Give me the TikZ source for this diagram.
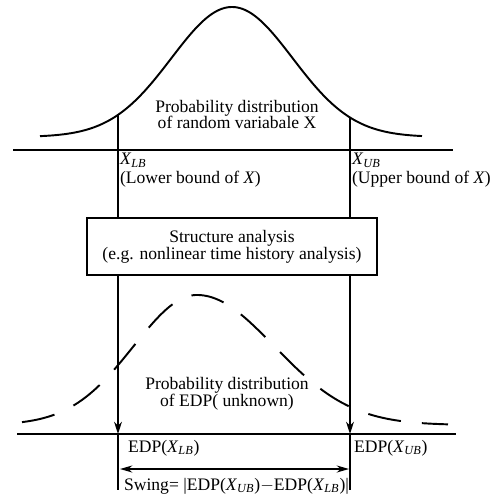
\documentclass[tikz,border=0pt]{standalone}
\usepackage{fontspec}
\setmainfont{Liberation Serif}
\usetikzlibrary{arrows.meta}

\begin{document}
\begin{tikzpicture}[x=0.02cm, y=-0.02cm, font=\fontsize{10}{9.6}\selectfont,
  curve/.style={line width=1.1pt},
  axis/.style={line width=0.9pt},
  guide/.style={line width=0.7pt},
  tip/.style={-{Stealth[length=7pt,width=4.5pt]}},
  box/.style={draw, line width=0.7pt, align=center, minimum width=5.8cm, minimum height=1.14cm},
  lbl/.style={anchor=west, inner sep=1pt}]
\useasboundingbox (0,0) rectangle (498,495);

% distribution of X
\draw[curve, domain=40:422, samples=150] plot (\x, {137-130*exp(-0.5*((\x-232)/60.6)^2)});
\node[align=center] (pin) at (237,114.5) {Probability distribution\\of random variabale X};
\coordinate (lbc) at (118, {137-130*exp(-0.5*((118-232)/60.6)^2)});
\coordinate (ubc) at (350, {137-130*exp(-0.5*((350-232)/60.6)^2)});
\coordinate (a1w) at (13,150);
\coordinate (a1e) at (453,150);
\draw[axis] (a1w) -- (a1e);
\node[lbl, anchor=north west, align=left, font=\fontsize{10}{11}\selectfont] (lbt) at (118,151)
  {\textit{X}\textsubscript{\textit{LB}}\\(Lower bound of \textit{X})};
\node[lbl, anchor=north west, align=left, font=\fontsize{10}{11}\selectfont] (ubt) at (350,151)
  {\textit{X}\textsubscript{\textit{UB}}\\(Upper bound of \textit{X})};

% analysis
\node[box] (sa) at (232,246.5) {Structure analysis\\(e.g. nonlinear time history analysis)};
\draw[guide] (lbc) -- (lbc |- sa.north);
\draw[guide] (ubc) -- (ubc |- sa.north);

% distribution of EDP
\draw[curve, dash pattern=on 19pt off 12pt, domain=22:448, samples=200]
  plot (\x, {425-130*exp(-0.5*((\x-197)/((\x<197) ? 63.4 : 77.2))^2)});
\node[align=center] (pout) at (227,394) {Probability distribution\\of EDP( unknown)};
\coordinate (lb2) at (118,434);
\coordinate (ub2) at (350,434);
\coordinate (a2w) at (17,434);
\coordinate (a2e) at (456,434);
\draw[axis] (a2w) -- (a2e);
\draw[guide, tip] (lb2 |- sa.south) -- (lb2);
\draw[guide, tip] (ub2 |- sa.south) -- (ub2);
\coordinate (lbend) at (118,490);
\coordinate (ubend) at (350,490);
\draw[guide] (lb2) -- (lbend);
\draw[guide] (ub2) -- (ubend);
\node[lbl] (elb) at (126,448) {EDP(\textit{X}\textsubscript{\textit{LB}})};
\node[lbl] (eub) at (352,448) {EDP(\textit{X}\textsubscript{\textit{UB}})};

% swing
\coordinate (sw) at (120,469);
\coordinate (se) at (349,469);
\draw[line width=1pt, {Stealth[length=7pt,width=4pt]}-{Stealth[length=7pt,width=4pt]}] (sw) -- (se);
\node[lbl] (swing) at (122,486) {Swing= \textbar EDP(\textit{X}\textsubscript{\textit{UB}})$-$EDP(\textit{X}\textsubscript{\textit{LB}})\textbar};
\end{tikzpicture}
\end{document}
